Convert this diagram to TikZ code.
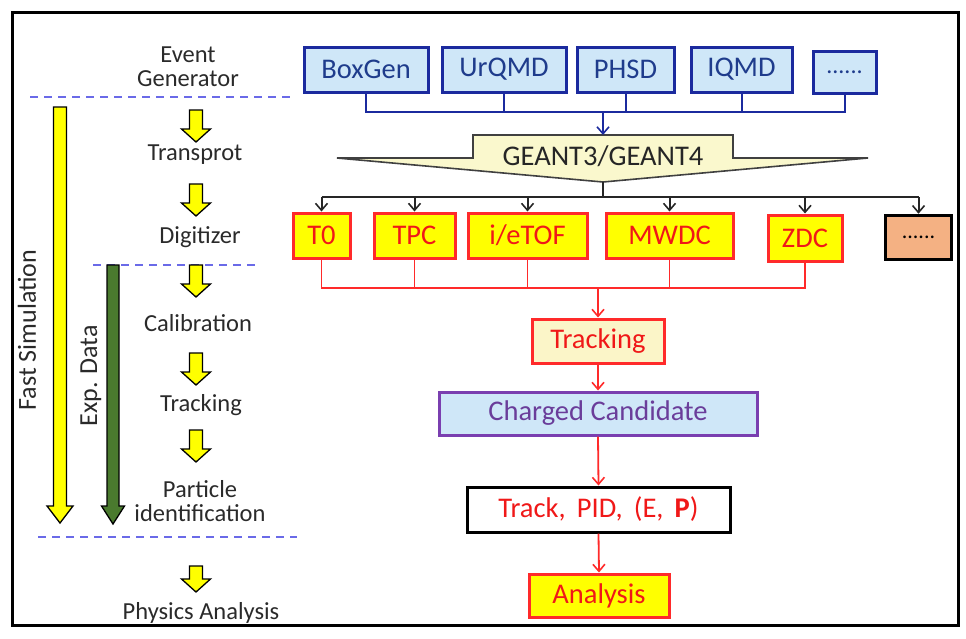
\documentclass[tikz,border=0pt]{standalone}
\usepackage{fontspec}
\setmainfont{Carlito}
\usetikzlibrary{arrows.meta}
\definecolor{bbord}{HTML}{1B2A9E}
\definecolor{bfill}{HTML}{CFE7F8}
\definecolor{btext}{HTML}{1F3C8C}
\definecolor{rbord}{HTML}{FF2A2A}
\definecolor{rtext}{HTML}{F01818}
\definecolor{yfill}{HTML}{FFFF00}
\definecolor{lyfill}{HTML}{FBF5C8}
\definecolor{gfill}{HTML}{FAF8CD}
\definecolor{purp}{HTML}{7A3FB0}
\definecolor{purptext}{HTML}{6A3D9A}
\definecolor{dashc}{HTML}{6A6AE8}
\definecolor{greenar}{HTML}{4A7A2E}
\definecolor{salmon}{HTML}{F4B183}
\definecolor{ltext}{HTML}{2A2A2A}
\begin{document}
\begin{tikzpicture}[x=1pt,y=-1pt,
 genbox/.style={draw=bbord,fill=bfill,line width=3pt,text=btext,inner sep=0pt,minimum height=45pt,font=\fontsize{28.5}{30}\selectfont},
 detbox/.style={draw=rbord,fill=yfill,line width=3pt,text=rtext,inner sep=0pt,minimum height=45pt,font=\fontsize{28.5}{30}\selectfont},
 lab/.style={text=ltext,font=\fontsize{24.5}{25}\selectfont,align=center},
 vlab/.style={text=ltext,font=\fontsize{26}{28}\selectfont,rotate=90},
 sepline/.style={draw=dashc,dash pattern=on 8pt off 6pt,line width=1.6pt},
 bluecon/.style={draw=bbord,line width=2pt},
 blackcon/.style={draw=black!85,line width=2pt},
 redcon/.style={draw=rbord,line width=1.8pt},
 conarr/.style={-{Straight Barb[length=7pt,width=12pt,line width=1.6pt]}},
 blockar/.style={draw=black,line width=1.3pt,fill=yfill},
]
\useasboundingbox (0,0) rectangle (966,638);
\draw[line width=3pt] (12,12) rectangle (958,625);

% left column
\node[lab] (evgen) at (188,67) {Event\\[-1pt]Generator};
\node[lab] (transp) at (195,155) {Transprot};
\node[lab] (digi) at (200,237) {Digitizer};
\node[lab] (calib) at (198,323) {Calibration};
\node[lab] (trk) at (201,405) {Tracking};
\node[lab] (pid) at (200,501) {Particle\\[-1pt]identification};
\node[lab] (phys) at (201,613) {Physics Analysis};

\draw[sepline] (30,97) -- (290,97);
\draw[sepline] (93,265) -- (260,265);
\draw[sepline] (38,537) -- (297,537);

\foreach \yy/\ll in {110/32,184/32,265/32,353/32,430/32,566/26}{
  \draw[blockar] (189.5,\yy) -- (202.5,\yy) -- (202.5,{\yy+\ll-13}) -- (210.5,{\yy+\ll-13})
     -- (196,{\yy+\ll}) -- (181.5,{\yy+\ll-13}) -- (189.5,{\yy+\ll-13}) -- cycle;
}

\draw[blockar] (53.5,107) -- (66.5,107) -- (66.5,506) -- (73,506) -- (60,523) -- (47,506) -- (53.5,506) -- cycle;
\draw[draw=black,line width=1.3pt,fill=greenar] (107,265) -- (119,265) -- (119,506) -- (124.5,506) -- (113,524) -- (101.5,506) -- (107,506) -- cycle;
\node[vlab] (fastsim) at (27,330) {Fast Simulation};
\node[vlab] (expdata) at (91,376) {Exp. Data};

% generators
\node[genbox,minimum width=124pt] (boxgen) at (366,69.5) {BoxGen};
\node[genbox,minimum width=124pt] (urqmd) at (504,69.5) {UrQMD};
\node[genbox,minimum width=97pt] (phsd) at (625.5,69.5) {PHSD};
\node[genbox,minimum width=101pt] (iqmd) at (741.5,69.5) {IQMD};
\node[genbox,minimum width=63pt,minimum height=42pt,font=\fontsize{24}{26}\selectfont] (gdots) at (844.5,72) {......};

\coordinate (bus) at (603,112);
\draw[bluecon] (boxgen.south) -- (boxgen.south |- bus) -- (gdots.south |- bus) -- (gdots.south);
\draw[bluecon] (urqmd.south) -- (urqmd.south |- bus);
\draw[bluecon] (phsd.south) -- (phsd.south |- bus);
\draw[bluecon] (iqmd.south) -- (iqmd.south |- bus);

% GEANT callout
\coordinate (gtop) at (603,135);
\coordinate (gtip) at (603,182);
\draw[fill=gfill,draw=black!75,line width=1.6pt] (473,135) -- (733,135) -- (733,158) -- (868,158) -- (gtip) -- (337,158) -- (473,158) -- cycle;
\node[text=black!85,font=\fontsize{28.5}{30}\selectfont] (geant) at (603,156) {GEANT3/GEANT4};
\draw[bluecon,conarr] (bus) -- (gtop);

% detectors
\node[detbox,minimum width=57pt] (t0) at (321.5,235.5) {T0};
\node[detbox,minimum width=81pt] (tpc) at (414.5,235.5) {TPC};
\node[detbox,minimum width=119pt] (tof) at (527.5,235.5) {i/eTOF};
\node[detbox,minimum width=127pt] (mwdc) at (669.5,235.5) {MWDC};
\node[detbox,minimum width=74pt,minimum height=46pt] (zdc) at (805,238) {ZDC};
\node[draw=black,line width=3.5pt,fill=salmon,minimum width=66pt,minimum height=44pt,inner sep=0pt,font=\fontsize{22}{26}\selectfont] (ddots) at (918.5,237.5) {......};

\coordinate (kb) at (603,197);
\draw[blackcon] (gtip) -- (kb);
\draw[blackcon] (t0.north |- kb) -- (ddots.north |- kb);
\foreach \n in {t0,tpc,tof,mwdc,zdc,ddots}{
  \draw[blackcon,conarr] (\n.north |- kb) -- (\n.north);
}

% red flow
\coordinate (rb) at (598,288);
\draw[redcon] (t0.south) -- (t0.south |- rb) -- (zdc.south |- rb) -- (zdc.south);
\foreach \n in {tpc,tof,mwdc}{
  \draw[redcon] (\n.south) -- (\n.south |- rb);
}
\node[detbox,fill=lyfill,minimum width=132pt,minimum height=44pt] (tracking) at (598,341) {Tracking};
\node[draw=purp,fill=bfill,line width=3pt,text=purptext,inner sep=0pt,minimum width=318pt,minimum height=43pt,font=\fontsize{28.5}{30}\selectfont] (charged) at (598,413.5) {Charged Candidate};
\node[draw=black,fill=white,line width=3pt,text=rtext,inner sep=0pt,minimum width=263pt,minimum height=45pt,font=\fontsize{28.5}{30}\selectfont] (track) at (598.5,509.5) {Track,\ \,PID,\ \,(E,\ \,\textbf{P})};
\node[detbox,minimum width=140pt,minimum height=43pt] (analysis) at (599,595.5) {Analysis};

\draw[redcon,conarr] (rb) -- (tracking.north);
\draw[redcon,conarr] (tracking.south) -- (charged.north);
\draw[redcon,conarr] (charged.south) -- (track.north);
\draw[redcon,conarr] (track.south) -- (analysis.north);
\end{tikzpicture}
\end{document}
